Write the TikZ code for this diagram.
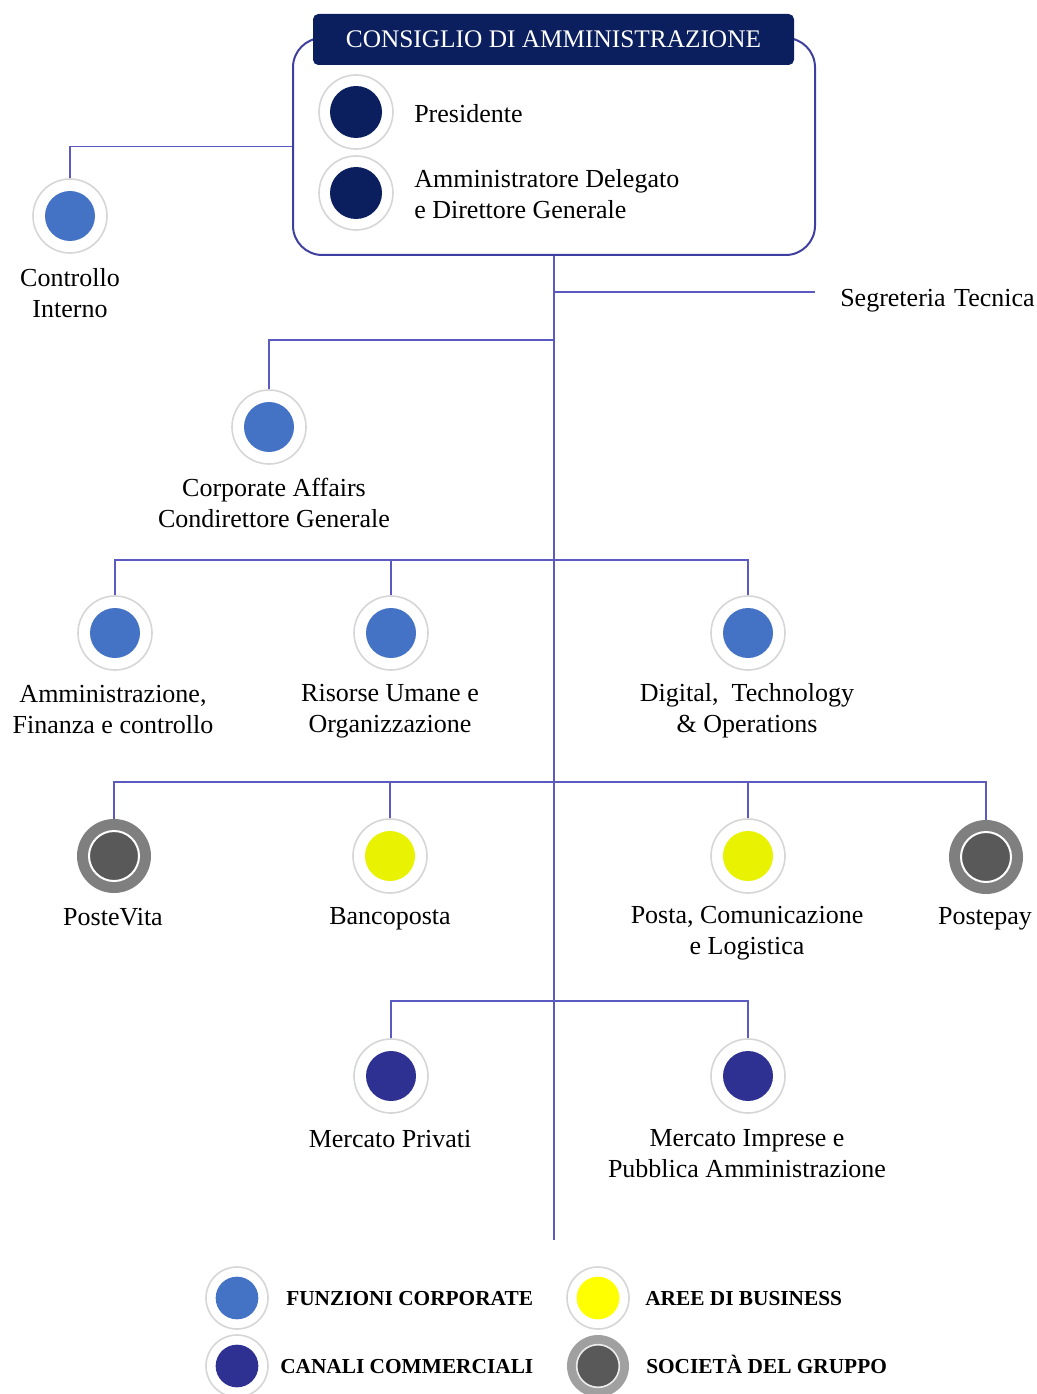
\documentclass[tikz,border=0pt]{standalone}
\usepackage{fontspec}
\setmainfont{Liberation Serif}
\definecolor{navy}{HTML}{0B1F5E}
\definecolor{corp}{HTML}{4472C4}
\definecolor{canali}{HTML}{2E3192}
\definecolor{busy}{HTML}{E9F200}
\definecolor{legy}{HTML}{FFFF00}
\definecolor{soc}{HTML}{595959}
\definecolor{socringc}{HTML}{7F7F7F}
\definecolor{socringl}{HTML}{A0A0A0}
\definecolor{connc}{HTML}{5A5AC0}
\definecolor{boxline}{HTML}{3F3FA0}
\definecolor{ringc}{HTML}{D6D6D6}
\begin{document}
\begin{tikzpicture}[x=0.75pt,y=-0.75pt,
  ring/.style={circle, draw=ringc, line width=1.2pt, fill=white, minimum size=55.5pt, inner sep=0pt},
  dot/.style={circle, fill=#1, minimum size=37.5pt, inner sep=0pt},
  bigdot/.style={circle, fill=#1, minimum size=39pt, inner sep=0pt},
  socring/.style={circle, fill=socringc, minimum size=55.5pt, inner sep=0pt},
  socdot/.style={circle, fill=soc, draw=white, line width=1.5pt, minimum size=37.5pt, inner sep=0pt},
  legring/.style={circle, draw=ringc, line width=1.2pt, fill=white, minimum size=46.5pt, inner sep=0pt},
  legsocring/.style={circle, fill=socringl, minimum size=46.5pt, inner sep=0pt},
  legdot/.style={circle, fill=#1, minimum size=32pt, inner sep=0pt},
  legsocdot/.style={circle, fill=soc, draw=white!85!gray, line width=1.2pt, minimum size=32pt, inner sep=0pt},
  conn/.style={draw=connc, line width=1.1pt},
  lbl/.style={align=center, font=\fontsize{19.5}{23.25}\selectfont, inner sep=0pt},
  leglbl/.style={anchor=west, font=\bfseries\fontsize{16}{19}\selectfont, inner sep=0pt, text height=11pt, text depth=0pt}
]
\useasboundingbox (0,0) rectangle (1037,1394);

% board box
\node[draw=boxline, line width=1.5pt, rounded corners=22pt, minimum width=391.5pt, minimum height=162.75pt, inner sep=0pt] (board) at (554,146.5) {};
\node[fill=navy, rounded corners=4pt, text=white, minimum width=360.75pt, minimum height=38.25pt, inner sep=0pt, font=\fontsize{19}{22}\selectfont] (cda) at (553.5,39.5) {CONSIGLIO DI AMMINISTRAZIONE};

\node[ring] (presr) at (356,112) {};
\node[bigdot=navy] (pres) at (presr) {};
\node[lbl, anchor=west] (prest) at (414,114) {Presidente};
\node[ring] (adr) at (356,193) {};
\node[bigdot=navy] (ad) at (adr) {};
\node[lbl, anchor=west, align=left] (adt) at (414,194) {Amministratore Delegato\\e Direttore Generale};

% Controllo Interno
\node[ring] (ci) at (70,216) {};
\node[dot=corp] (cid) at (ci) {};
\node[lbl] (cit) at (70,293) {Controllo\\Interno};
\draw[conn] (ci.north) |- (board.west);

% trunk
\coordinate (trunkend) at (554,1240);
\draw[conn] (board.south) -- (trunkend);

% Segreteria
\coordinate (segend) at (815,292);
\node[lbl, anchor=west] (seg) at (840,301) {Segreteria\hspace{1.5pt} Tecnica};
\draw[conn] (board.south |- segend) -- (segend);

% Corporate Affairs
\coordinate (j1) at (554,340);
\node[ring] (ca) at (269,427) {};
\node[dot=corp] (cad) at (ca) {};
\node[lbl] (cat) at (274,503) {Corporate Affairs\\Condirettore Generale};
\draw[conn] (ca.north) |- (j1);

% Row 3
\coordinate (j3) at (554,560);
\node[ring] (afc) at (115,633) {};
\node[dot=corp] (afcd) at (afc) {};
\node[lbl] (afct) at (113,710) {Amministrazione,\\Finanza e controllo};
\node[ring] (ru) at (391,633) {};
\node[dot=corp] (rud) at (ru) {};
\node[lbl] (rut) at (390,711) {Risorse Umane e\\Organizzazione};
\node[ring] (dto) at (748,633) {};
\node[dot=corp] (dtod) at (dto) {};
\node[lbl] (dtot) at (747,711) {Digital,\ \ Technology\\\& Operations};
\draw[conn] (afc.north) |- (j3) -| (dto.north);
\draw[conn] (ru.north) -- (ru.north |- j3);

% Row 4
\coordinate (j4) at (554,782);
\node[socring] (pv) at (114,856) {};
\node[socdot] (pvd) at (pv) {};
\node[lbl] (pvt) at (113,917) {PosteVita};
\node[ring] (bp) at (390,856) {};
\node[dot=busy] (bpd) at (bp) {};
\node[lbl] (bpt) at (390,919) {Bancoposta};
\node[ring] (pcl) at (748,856) {};
\node[dot=busy] (pcld) at (pcl) {};
\node[lbl] (pclt) at (747,933) {Posta, Comunicazione\\e Logistica};
\node[socring] (pp) at (986,857) {};
\node[socdot] (ppd) at (pp) {};
\node[lbl] (ppt) at (985,919) {Postepay};
\draw[conn] (pv.north) |- (j4) -| (pp.north);
\draw[conn] (bp.north) -- (bp.north |- j4);
\draw[conn] (pcl.north) -- (pcl.north |- j4);

% Row 5
\coordinate (j5) at (554,1001);
\node[ring] (mp) at (391,1076) {};
\node[dot=canali] (mpd) at (mp) {};
\node[lbl] (mpt) at (390,1139) {Mercato Privati};
\node[ring] (mi) at (748,1076) {};
\node[dot=canali] (mid) at (mi) {};
\node[lbl] (mit) at (747,1154) {Mercato Imprese e\\Pubblica Amministrazione};
\draw[conn] (mp.north) |- (j5) -| (mi.north);

% Legend
\node[legring] (l1) at (237,1298) {};
\node[legdot=corp] (l1d) at (l1) {};
\node[leglbl] (l1t) at (286,1298) {FUNZIONI CORPORATE};
\node[legring] (l2) at (237,1366) {};
\node[legdot=canali] (l2d) at (l2) {};
\node[leglbl] (l2t) at (280,1366) {CANALI COMMERCIALI};
\node[legring] (l3) at (598,1298) {};
\node[legdot=legy] (l3d) at (l3) {};
\node[leglbl] (l3t) at (645,1298) {AREE DI BUSINESS};
\node[legsocring] (l4) at (598,1366) {};
\node[legsocdot] (l4d) at (l4) {};
\node[leglbl] (l4t) at (646,1366) {SOCIETÀ DEL GRUPPO};
\end{tikzpicture}
\end{document}
